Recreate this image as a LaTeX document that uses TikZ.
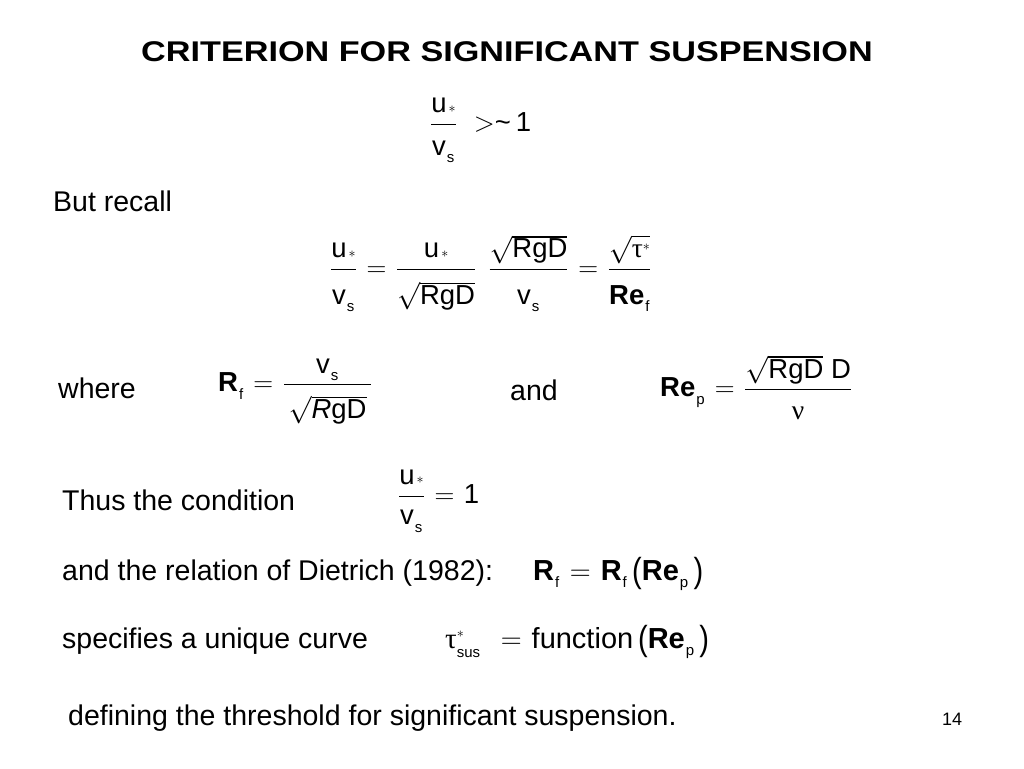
\documentclass[tikz,border=0pt]{standalone}
\usepackage{fix-cm}
\usepackage{amsmath}
\usepackage{fontspec}
\setmainfont{Liberation Sans}
\newfontfamily\grk{Liberation Serif}
\newcommand\tx[1]{\text{#1}}
\newcommand\bx[1]{\textbf{#1}}
\newcommand\sbt[1]{_{\raisebox{-3.5pt}{\fontsize{15}{15}\selectfont\hspace{1pt}#1}}}
\newcommand\st{\mbox{\hspace{2pt}\raisebox{0.5pt}{\fontsize{14}{14}\selectfont$\ast$}}}
\newcommand\smast{\mbox{\fontsize{14}{14}\selectfont$\ast$}}
\newcommand\fr[3]{\dfrac{#2}{\rule{0pt}{#1pt}#3}}
\newcommand\tparen[1]{\mbox{\raisebox{-2pt}{\scalebox{1}[1.2]{#1}}}}
\newcommand\gtau{\mbox{\grk τ}}
\newcommand\gnu{\mbox{\grk ν}}
\newcommand\EQ{\mathrel{\hspace{2pt}=\hspace{2pt}}}
\tikzset{
  body/.style={inner sep=0pt, font=\fontsize{28.5}{32}\selectfont},
  eqn/.style={inner sep=0pt, font=\fontsize{27.5}{31}\selectfont},
  eqnb/.style={inner sep=0pt, font=\fontsize{29}{33}\selectfont},
}
\begin{document}
\begin{tikzpicture}[x=1pt,y=-1pt]
\useasboundingbox[fill=white] (0,0) rectangle (1024,768);
\node[body, anchor=base] (title) at (507,62) {\scalebox{1.2}[1]{\bfseries CRITERION FOR SIGNIFICANT SUSPENSION}};
\node[eqn, anchor=base west] (e1) at (430,131.6) {$\fr{27}{\tx{u}\st}{\tx{v}\sbt{s}}\hspace{17pt}{>}\tx{\textasciitilde\hspace{5pt}1}$};
\node[body, anchor=base west] (recall) at (53,211) {But recall};
\node[eqn, anchor=base west] (e2) at (330,276.6) {$\fr{31}{\tx{u}\st}{\tx{v}\sbt{s}} \EQ \fr{31}{\tx{u}\st}{\sqrt{\tx{RgD}}}\hspace{12pt}\fr{31}{\sqrt{\tx{RgD}}}{\tx{v}\sbt{s}} \EQ \fr{31}{\sqrt{\gtau^{\smast}}}{\bx{Re}\sbt{f}}$};
\node[body, anchor=base west] (where) at (58,398) {where};
\node[eqn, anchor=base west] (e3) at (218,391.6) {$\bx{R}\sbt{f} \EQ \fr{30}{\tx{v}\sbt{s}}{\,\sqrt{\textit{R}\tx{gD}}\,}$};
\node[body, anchor=base west] (and) at (510,400) {and};
\node[eqn, anchor=base west] (e4) at (660,396.6) {$\bx{Re}\sbt{p} \EQ \fr{26}{\sqrt{\tx{RgD}}\ \tx{D}}{\gnu}$};
\node[body, anchor=base west] (thus) at (62,510) {Thus the condition};
\node[eqn, anchor=base west] (e5) at (398,503) {$\fr{25}{\tx{u}\st}{\tx{v}\sbt{s}} \EQ \tx{1}$};
\node[body, anchor=base west] (diet) at (62,580) {and the relation of Dietrich (1982):};
\node[eqnb, anchor=base west] (e6) at (533,580) {$\bx{R}\sbt{f} \EQ \bx{R}\sbt{f}\,\tparen{(}\bx{Re}\sbt{p}\,\tparen{)}$};
\node[body, anchor=base west] (spec) at (62,648) {specifies a unique curve};
\node[eqnb, anchor=base west] (e7) at (445,648) {$\gtau^{\smast}_{\mbox{\fontsize{15}{15}\selectfont\raisebox{-2pt}{sus}}} \hspace{10pt}\EQ \tx{function}\,\tparen{(}\bx{Re}\sbt{p}\,\tparen{)}$};
\node[body, anchor=base west] (def) at (68,725) {defining the threshold for significant suspension.};
\node[inner sep=0pt, font=\fontsize{18}{20}\selectfont, anchor=base west] (page) at (942,725) {14};
\end{tikzpicture}
\end{document}
